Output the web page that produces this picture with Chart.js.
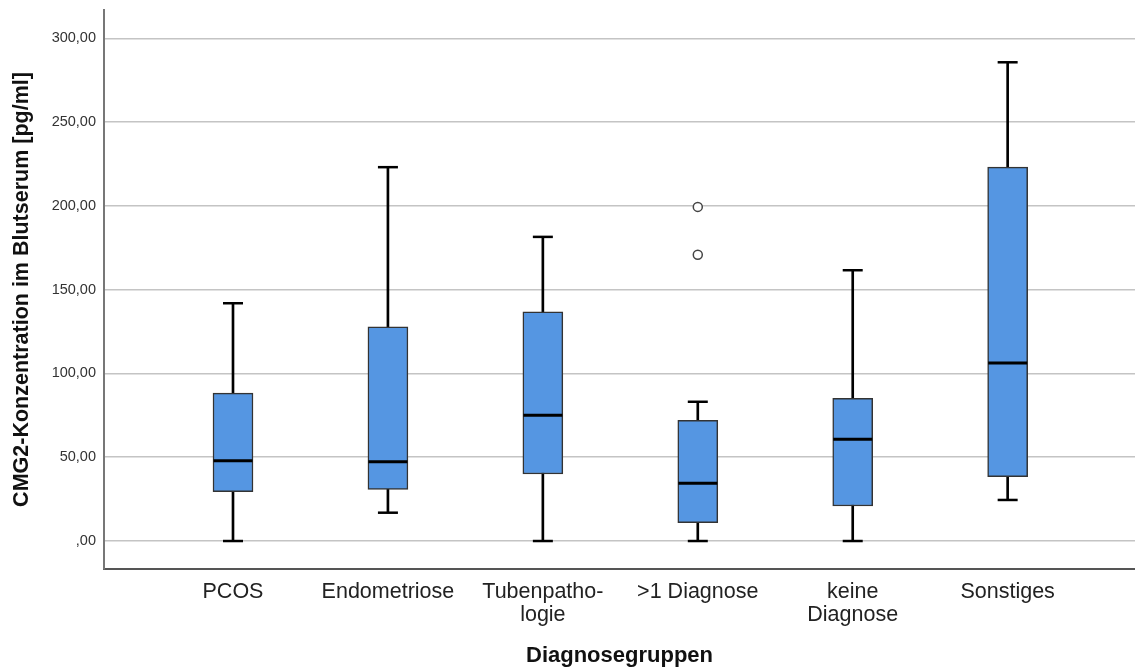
<!DOCTYPE html>
<html>
<head>
<meta charset="utf-8">
<script src="https://cdn.jsdelivr.net/npm/chart.js@4.4.1/dist/chart.umd.min.js"></script>
<style>
  html, body { margin: 0; padding: 0; background: #fff; }
  #wrap { width: 1135px; height: 670px; position: relative; }
</style>
</head>
<body>
<div id="wrap"><canvas id="c"></canvas></div>
<script>
const categories = ['PCOS', 'Endometriose', ['Tubenpatho-', 'logie'], '>1 Diagnose', ['keine', 'Diagnose'], 'Sonstiges'];
const whiskerLow  = [0,     16.9,  0,     0,    0,     24.5];
const q1          = [29.4,  30.8,  40.0,  10.9, 20.9,  38.4];
const median      = [47.9,  47.3,  75.1,  34.4, 60.8,  106.3];
const q3          = [88.3,  127.8, 136.8, 72.0, 85.1,  223.1];
const whiskerHigh = [141.9, 223.1, 181.5, 83.1, 161.6, 285.7];
const outliers    = [[], [], [], [199.4, 170.8], [], []];
const yTicks      = [0, 50, 100, 150, 200, 250, 300];
const yTickLabels = [',00', '50,00', '100,00', '150,00', '200,00', '250,00', '300,00'];
const xTitle = 'Diagnosegruppen';
const yTitle = 'CMG2-Konzentration im Blutserum [pg/ml]';

const FONT = "'Liberation Sans', Arial, sans-serif";

const whiskerData = categories.map((c, i) => ({ x: i, y: [whiskerLow[i], whiskerHigh[i]] }));
const boxData = categories.map((c, i) => ({ x: i, y: [q1[i], q3[i]] }));
const medianData = categories.map((c, i) => ({ x: i, y: median[i] }));
const capData = [];
categories.forEach((c, i) => {
  capData.push({ x: i, y: whiskerLow[i] });
  capData.push({ x: i, y: whiskerHigh[i] });
});
const outlierData = [];
outliers.forEach((arr, i) => arr.forEach(v => outlierData.push({ x: i, y: v })));

new Chart(document.getElementById('c'), {
  type: 'bar',
  data: {
    datasets: [
      {
        type: 'bar', data: whiskerData, backgroundColor: '#000', borderWidth: 0,
        barThickness: 2, grouped: false, order: 3
      },
      {
        type: 'bar', data: boxData, backgroundColor: '#5596e2', borderColor: '#333',
        borderWidth: 1.5, borderSkipped: false, barThickness: 40, grouped: false, order: 2
      },
      {
        type: 'scatter', data: medianData, pointStyle: 'line', pointRadius: 19.5,
        pointBorderWidth: 3, pointBorderColor: '#000', borderColor: '#000', order: 1
      },
      {
        type: 'scatter', data: capData, pointStyle: 'line', pointRadius: 10,
        pointBorderWidth: 2.5, pointBorderColor: '#000', borderColor: '#000', order: 1
      },
      {
        type: 'scatter', data: outlierData, pointStyle: 'circle', pointRadius: 4.5,
        pointBorderWidth: 1.5, pointBorderColor: '#444', pointBackgroundColor: '#fff', order: 0
      }
    ]
  },
  options: {
    responsive: true,
    maintainAspectRatio: false,
    animation: false,
    events: [],
    layout: { autoPadding: false, padding: { top: 10, right: 0, bottom: 0, left: 0 } },
    plugins: { legend: { display: false }, tooltip: { enabled: false } },
    scales: {
      x: {
        type: 'linear',
        min: -0.8326,
        max: 5.822,
        offset: false,
        grid: { display: false, drawTicks: false },
        border: { display: true, color: '#555', width: 2 },
        afterBuildTicks: (scale) => { scale.ticks = categories.map((c, i) => ({ value: i })); },
        afterFit: (scale) => {
          scale.height = 101;
          scale.paddingLeft = 0; scale.paddingRight = 0;
          scale.paddingTop = 0; scale.paddingBottom = 0;
        },
        ticks: {
          autoSkip: false, maxRotation: 0, minRotation: 0, padding: 11,
          color: '#222',
          font: { family: FONT, size: 21.5, lineHeight: 1.08 },
          callback: (v) => categories[v]
        },
        title: {
          display: true, text: xTitle, color: '#111',
          font: { family: FONT, size: 22, weight: 'bold' },
          padding: { top: 0, bottom: 1 }
        }
      },
      y: {
        type: 'linear',
        min: -16.7,
        max: 316.9,
        grid: { display: true, drawTicks: false, color: '#c4c4c4', lineWidth: 1.5 },
        border: { display: true, color: '#777', width: 2 },
        afterBuildTicks: (scale) => { scale.ticks = yTicks.map(v => ({ value: v })); },
        afterFit: (scale) => {
          scale.width = 104;
          scale.paddingLeft = 0; scale.paddingRight = 0;
          scale.paddingTop = 0; scale.paddingBottom = 0;
        },
        ticks: {
          padding: 8, color: '#333',
          font: { family: FONT, size: 14.5 },
          callback: (v, idx) => yTickLabels[idx]
        },
        title: {
          display: true, text: yTitle, color: '#111',
          font: { family: FONT, size: 21.5, weight: 'bold' },
          padding: { top: 9, bottom: 0 }
        }
      }
    }
  }
});
</script>
</body>
</html>
